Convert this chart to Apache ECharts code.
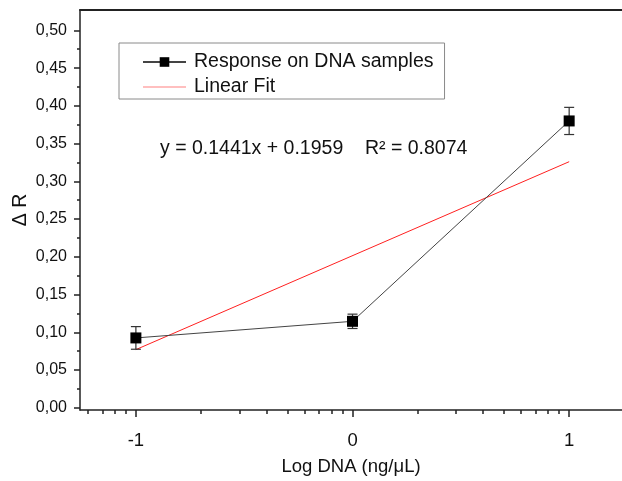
<!DOCTYPE html>
<html>
<head>
<meta charset="utf-8">
<script src="https://cdn.jsdelivr.net/npm/echarts@6/dist/echarts.min.js"></script>
<style>html,body{margin:0;padding:0;background:#fff;overflow:hidden}#c{width:622px;height:481px}</style>
</head>
<body>
<div id="c"></div>
<script>
// ---- data ----
const logDNA = [-1, 0, 1];
const deltaR = [0.0925, 0.1145, 0.380];
const deltaRErr = [0.015, 0.0095, 0.018];
const fitX = [-1, 1];
const fitY = [0.077, 0.326];
const xMajorTicks = [-1, 0, 1];
const yMajorTicks = [0, 0.05, 0.10, 0.15, 0.20, 0.25, 0.30, 0.35, 0.40, 0.45, 0.50];
const yMinorTicks = [0.025, 0.075, 0.125, 0.175, 0.225, 0.275, 0.325, 0.375, 0.425, 0.475];
const fitLabel = 'y = 0.1441x + 0.1959    R\u00B2 = 0.8074';

// log-decade minor tick positions on the log axis
const xMinorTicks = [];
[-2, -1, 0, 1].forEach(d => { for (let k = 2; k <= 9; k++) xMinorTicks.push(d + Math.log10(k)); });

const X_MIN = -1.258, X_MAX = 1.327;
const Y_MIN = -0.003, Y_MAX = 0.527;
const FONT = 'Liberation Sans, Arial, sans-serif';

const respData = logDNA.map((x, i) => [x, deltaR[i]]);
const errData = logDNA.map((x, i) => [x, deltaR[i] - deltaRErr[i], deltaR[i] + deltaRErr[i]]);
const fitData = fitX.map((x, i) => [x, fitY[i]]);
const xMinorIn = xMinorTicks.filter(v => v > X_MIN && v < X_MAX);

const chart = echarts.init(document.getElementById('c'), null, {renderer: 'canvas'});
chart.setOption({
  animation: false,
  backgroundColor: '#fff',
  textStyle: {fontFamily: FONT},
  grid: {left: 80, top: 10, width: 560, height: 400, containLabel: false, outerBoundsMode: 'none'},
  title: {
    text: fitLabel, left: 155, top: 134,
    textStyle: {fontFamily: FONT, fontSize: 19.5, fontWeight: 'normal', color: '#111'}
  },
  legend: {
    orient: 'vertical', left: 119, top: 43,
    padding: [9, 11, 2, 23], itemGap: 5,
    itemWidth: 43, itemHeight: 12,
    borderColor: '#8a8a8a', borderWidth: 1,
    textStyle: {fontFamily: FONT, fontSize: 19.5, color: '#111', padding: [0, 0, 0, 3]},
    data: [
      {name: 'Response on DNA samples'},
      {name: 'Linear Fit', icon: 'path://M0,0 L43,0 L43,1.2 L0,1.2 Z', itemStyle: {color: '#ff8080'}}
    ]
  },
  xAxis: [
    {
      type: 'value', min: X_MIN, max: X_MAX, position: 'bottom',
      name: 'Log DNA (ng/\u03BCL)', nameLocation: 'middle', nameGap: 47,
      nameTextStyle: {fontFamily: FONT, fontSize: 18.5, color: '#111', padding: [0, 18, 0, 0]},
      axisLine: {show: true, onZero: false, lineStyle: {color: '#222', width: 1.5}},
      axisTick: {show: true, inside: false, length: 7, customValues: xMajorTicks, lineStyle: {color: '#222', width: 1.5}},
      axisLabel: {show: true, customValues: xMajorTicks, margin: 21, fontSize: 18.5, color: '#111', fontFamily: FONT,
        formatter: v => String(v)},
      splitLine: {show: false}
    },
    {
      type: 'value', min: X_MIN, max: X_MAX, position: 'bottom',
      axisLine: {show: false, onZero: false},
      axisTick: {show: true, inside: false, length: 4, customValues: xMinorIn, lineStyle: {color: '#222', width: 1.5}},
      axisLabel: {show: false}, splitLine: {show: false}
    },
    {
      type: 'value', min: X_MIN, max: X_MAX, position: 'top',
      axisLine: {show: true, onZero: false, lineStyle: {color: '#222', width: 2}},
      axisTick: {show: false}, axisLabel: {show: false}, splitLine: {show: false}
    }
  ],
  yAxis: [
    {
      type: 'value', min: Y_MIN, max: Y_MAX, position: 'left',
      name: '\u0394 R', nameLocation: 'middle', nameGap: 49, nameMoveOverlap: false,
      nameTextStyle: {fontFamily: FONT, fontSize: 19.5, color: '#111'},
      axisLine: {show: true, onZero: false, lineStyle: {color: '#222', width: 1.5}},
      axisTick: {show: true, inside: false, length: 6, customValues: yMajorTicks, lineStyle: {color: '#222', width: 1.5}},
      axisLabel: {show: true, customValues: yMajorTicks, margin: 13, fontSize: 16, color: '#111', fontFamily: FONT,
        formatter: v => v.toFixed(2).replace('.', ',')},
      splitLine: {show: false}
    },
    {
      type: 'value', min: Y_MIN, max: Y_MAX, position: 'left',
      axisLine: {show: false, onZero: false},
      axisTick: {show: true, inside: false, length: 3, customValues: yMinorTicks, lineStyle: {color: '#222', width: 1.5}},
      axisLabel: {show: false}, splitLine: {show: false}
    }
  ],
  series: [
    {
      name: 'Linear Fit', type: 'line', data: fitData,
      xAxisIndex: 0, yAxisIndex: 0,
      symbol: 'none', color: '#ff2020',
      lineStyle: {color: '#ff2020', width: 1}, z: 2
    },
    {
      type: 'custom', data: errData, xAxisIndex: 0, yAxisIndex: 0, z: 3,
      renderItem: (params, api) => {
        const x = api.value(0);
        const lo = api.coord([x, api.value(1)]);
        const hi = api.coord([x, api.value(2)]);
        const hw = 5;
        const st = {stroke: '#333', lineWidth: 1.2};
        return {type: 'group', children: [
          {type: 'line', shape: {x1: lo[0], y1: lo[1], x2: hi[0], y2: hi[1]}, style: st},
          {type: 'line', shape: {x1: hi[0] - hw, y1: hi[1], x2: hi[0] + hw, y2: hi[1]}, style: st},
          {type: 'line', shape: {x1: lo[0] - hw, y1: lo[1], x2: lo[0] + hw, y2: lo[1]}, style: st}
        ]};
      }
    },
    {
      name: 'Response on DNA samples', type: 'line', data: respData,
      xAxisIndex: 0, yAxisIndex: 0,
      symbol: 'rect', symbolSize: 11, color: '#000',
      itemStyle: {color: '#000'},
      lineStyle: {color: '#444', width: 1}, z: 4
    }
  ]
});
</script>
</body>
</html>
